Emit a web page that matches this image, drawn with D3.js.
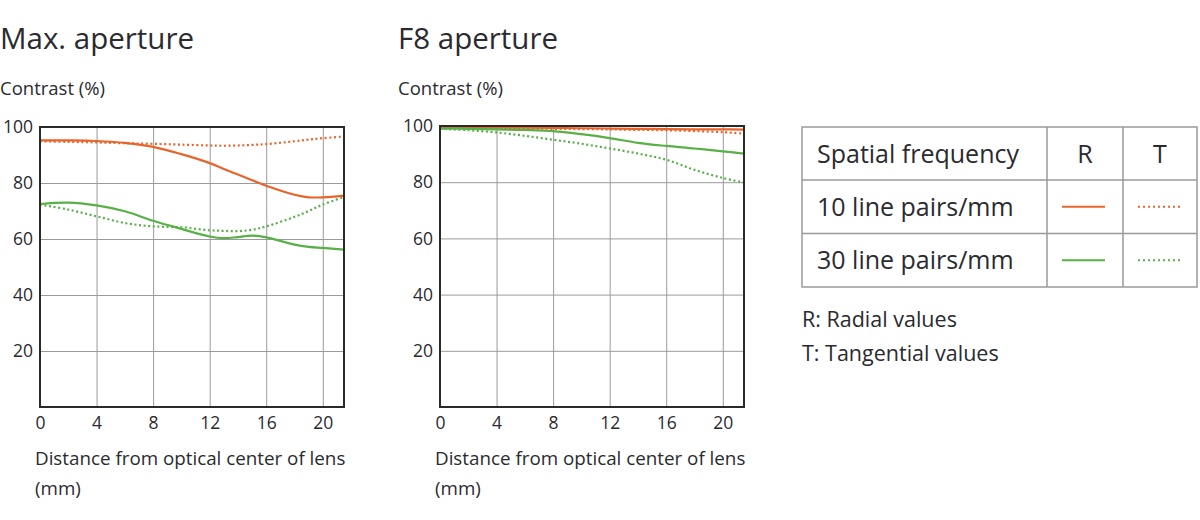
<!DOCTYPE html>
<html>
<head>
<meta charset="utf-8">
<script src="https://cdn.jsdelivr.net/npm/d3@7"></script>
<style>
  html, body { margin: 0; padding: 0; background: #fff; }
  svg { display: block; font-family: "Open Sans", "Noto Sans", sans-serif; }
</style>
</head>
<body>
<svg id="chart" width="1200" height="520"></svg>
<script>
// ---------- data ----------
const xTicks = [0, 4, 8, 12, 16, 20];
const yTicks = [20, 40, 60, 80, 100];

// Max. aperture
const maxX = [0, 2, 4, 6, 8, 10, 12, 13, 14, 15, 16, 18, 19, 20, 21.5];
const max10R = [95.2, 95.2, 95.0, 94.3, 92.9, 90.3, 87.1, 85.0, 83.0, 81.0, 79.0, 75.8, 74.9, 74.9, 75.5];
const max10T = [94.9, 94.7, 94.5, 94.2, 94.0, 93.7, 93.4, 93.3, 93.4, 93.6, 93.9, 94.9, 95.5, 96.0, 96.6];
const max30R = [72.5, 73.0, 72.0, 69.9, 66.5, 63.6, 60.9, 60.3, 60.7, 61.2, 60.6, 58.0, 57.2, 56.8, 56.2];
const max30T = [72.3, 70.5, 68.1, 65.7, 64.5, 64.2, 63.1, 62.9, 62.8, 63.3, 64.5, 67.9, 70.0, 72.3, 75.0];

// F8 aperture
const f8X = [0, 2, 4, 6, 8, 10, 12, 14, 16, 18, 20, 21.5];
const f810R = [99.5, 99.5, 99.4, 99.4, 99.3, 99.2, 99.1, 99.0, 98.9, 98.8, 98.8, 98.7];
const f810T = [99.4, 99.3, 99.2, 99.1, 99.0, 98.9, 98.8, 98.6, 98.5, 98.2, 97.8, 97.3];
const f830R = [99.1, 99.0, 98.8, 98.6, 98.2, 97.1, 95.7, 94.0, 92.9, 92.0, 91.0, 90.2];
const f830T = [99.0, 98.5, 97.7, 96.5, 95.1, 93.7, 92.0, 90.2, 88.0, 84.4, 81.5, 79.9];

const legendRows = ["10 line pairs/mm", "30 line pairs/mm"];
const legendCols = ["Spatial frequency", "R", "T"];

// ---------- styles ----------
const ORANGE = "#e8642a";
const GREEN = "#58b047";
const TEXT = "#2a2a30";

const svg = d3.select("#chart");

function drawChart(cfg) {
  const g = svg.append("g");
  const x = d3.scaleLinear().domain([0, 21.5]).range([cfg.left, cfg.right]);
  const y = d3.scaleLinear().domain([0, 100]).range([cfg.bottom, cfg.top]);

  // title
  svg.append("text").attr("x", cfg.titleX).attr("y", 49)
    .attr("font-size", 29.5).attr("fill", TEXT).text(cfg.title);
  svg.append("text").attr("x", cfg.titleX).attr("y", 95)
    .attr("font-size", 18.5).attr("fill", TEXT).text("Contrast (%)");

  // grid verticals
  g.append("g").attr("transform", `translate(0,${cfg.bottom})`)
    .call(d3.axisBottom(x).tickValues(xTicks.filter(d => d > 0)).tickSize(-(cfg.bottom - cfg.top)).tickFormat(""))
    .call(a => a.select(".domain").remove())
    .call(a => a.selectAll("line").attr("stroke", "#9a9a9a").attr("stroke-width", 1));
  // grid horizontals
  g.append("g").attr("transform", `translate(${cfg.left},0)`)
    .call(d3.axisLeft(y).tickValues(yTicks.filter(d => d < 100)).tickSize(-(cfg.right - cfg.left)).tickFormat(""))
    .call(a => a.select(".domain").remove())
    .call(a => a.selectAll("line").attr("stroke", "#9a9a9a").attr("stroke-width", 1));

  // y labels
  g.append("g").attr("transform", `translate(${cfg.left - 7},0)`)
    .call(d3.axisLeft(y).tickValues(yTicks).tickSize(0).tickPadding(0))
    .call(a => a.select(".domain").remove())
    .call(a => a.selectAll("text").attr("font-size", 17.5).attr("fill", TEXT)
      .attr("font-family", "'Open Sans', sans-serif"));
  // x labels
  g.append("g").attr("transform", `translate(0,${cfg.bottom + 10})`)
    .call(d3.axisBottom(x).tickValues(xTicks).tickSize(0).tickPadding(0))
    .call(a => a.select(".domain").remove())
    .call(a => a.selectAll("text").attr("font-size", 17.5).attr("fill", TEXT)
      .attr("font-family", "'Open Sans', sans-serif"));

  // x title
  svg.append("text").attr("x", cfg.left - 5).attr("y", 465)
    .attr("font-size", 18.8).attr("fill", TEXT).text("Distance from optical center of lens");
  svg.append("text").attr("x", cfg.left - 5).attr("y", 495)
    .attr("font-size", 18.8).attr("fill", TEXT).text("(mm)");

  const line = d3.line().x(d => x(d[0])).y(d => y(d[1])).curve(d3.curveCatmullRom.alpha(0.5));
  const clipId = "clip" + cfg.id;
  svg.append("clipPath").attr("id", clipId).append("rect")
    .attr("x", cfg.left).attr("y", cfg.top - 3).attr("width", cfg.right - cfg.left).attr("height", cfg.bottom - cfg.top + 3);
  const lg = g.append("g").attr("clip-path", `url(#${clipId})`);
  cfg.series.forEach(s => {
    lg.append("path").datum(cfg.xs.map((xv, i) => [xv, s.values[i]]))
      .attr("d", line).attr("fill", "none")
      .attr("stroke", s.color).attr("stroke-width", 2.2)
      .attr("stroke-dasharray", s.dotted ? "2,2.6" : null);
  });

  // frame
  g.append("rect").attr("x", cfg.left).attr("y", cfg.top)
    .attr("width", cfg.right - cfg.left).attr("height", cfg.bottom - cfg.top)
    .attr("fill", "none").attr("stroke", "#2a2a2a").attr("stroke-width", 2);
}

drawChart({
  id: "a", title: "Max. aperture", titleX: 0,
  left: 40, right: 344, top: 127, bottom: 407, xs: maxX,
  series: [
    { values: max10T, color: ORANGE, dotted: true },
    { values: max30T, color: GREEN, dotted: true },
    { values: max10R, color: ORANGE, dotted: false },
    { values: max30R, color: GREEN, dotted: false }
  ]
});
drawChart({
  id: "b", title: "F8 aperture", titleX: 398,
  left: 440, right: 744, top: 126, bottom: 407, xs: f8X,
  series: [
    { values: f810T, color: ORANGE, dotted: true },
    { values: f830T, color: GREEN, dotted: true },
    { values: f810R, color: ORANGE, dotted: false },
    { values: f830R, color: GREEN, dotted: false }
  ]
});

// ---------- legend table ----------
const tx = [802, 1047, 1123, 1197];
const ty = [127, 180, 233.5, 287];
const tg = svg.append("g");
tg.append("rect").attr("x", tx[0]).attr("y", ty[0]).attr("width", tx[3] - tx[0]).attr("height", ty[3] - ty[0])
  .attr("fill", "none").attr("stroke", "#9a9a9a").attr("stroke-width", 1.5);
[1, 2].forEach(i => {
  tg.append("line").attr("x1", tx[i]).attr("x2", tx[i]).attr("y1", ty[0]).attr("y2", ty[3])
    .attr("stroke", "#9a9a9a").attr("stroke-width", 1.5);
  tg.append("line").attr("x1", tx[0]).attr("x2", tx[3]).attr("y1", ty[i]).attr("y2", ty[i])
    .attr("stroke", "#9a9a9a").attr("stroke-width", 1.5);
});
const rowMid = i => (ty[i] + ty[i + 1]) / 2;
const FS = 25;
tg.append("text").attr("x", 817).attr("y", rowMid(0) + 9).attr("font-size", FS).attr("fill", TEXT).text(legendCols[0]);
tg.append("text").attr("x", (tx[1] + tx[2]) / 2).attr("y", rowMid(0) + 9).attr("text-anchor", "middle")
  .attr("font-size", FS).attr("fill", TEXT).text(legendCols[1]);
tg.append("text").attr("x", (tx[2] + tx[3]) / 2).attr("y", rowMid(0) + 9).attr("text-anchor", "middle")
  .attr("font-size", FS).attr("fill", TEXT).text(legendCols[2]);
const legendColors = [ORANGE, GREEN];
legendRows.forEach((r, i) => {
  const cy = rowMid(i + 1);
  tg.append("text").attr("x", 817).attr("y", cy + 9).attr("font-size", FS).attr("fill", TEXT).text(r);
  tg.append("line").attr("x1", 1062).attr("x2", 1105).attr("y1", cy).attr("y2", cy)
    .attr("stroke", legendColors[i]).attr("stroke-width", 2.2);
  tg.append("line").attr("x1", 1138).attr("x2", 1182).attr("y1", cy).attr("y2", cy)
    .attr("stroke", legendColors[i]).attr("stroke-width", 2).attr("stroke-dasharray", "2,3");
});
svg.append("text").attr("x", 802).attr("y", 327).attr("font-size", 21.5).attr("fill", TEXT).text("R: Radial values");
svg.append("text").attr("x", 802).attr("y", 361).attr("font-size", 21.5).attr("fill", TEXT).text("T: Tangential values");
</script>
</body>
</html>
